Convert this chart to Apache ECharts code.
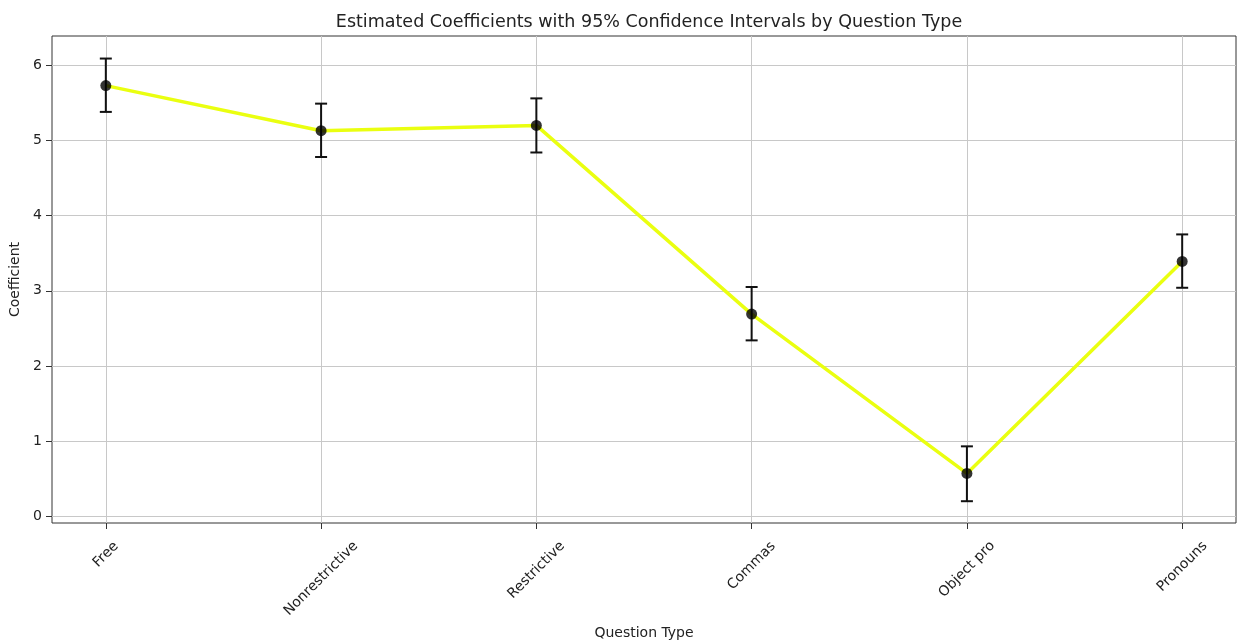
<!DOCTYPE html>
<html>
<head>
<meta charset="utf-8">
<style>
  html, body { margin: 0; padding: 0; background: #fff; }
  #myChart { width: 1238px; height: 644px; }
</style>
<script src="https://cdn.jsdelivr.net/npm/echarts@6/dist/echarts.min.js"></script>
</head>
<body>
<div id="myChart"></div>
<script>
// data
const categories = ['Free', 'Nonrestrictive', 'Restrictive', 'Commas', 'Object pro', 'Pronouns']
const coefficients = [5.73, 5.13, 5.20, 2.69, 0.57, 3.39]
const ciLower = [5.38, 4.78, 4.84, 2.34, 0.20, 3.04]
const ciUpper = [6.09, 5.49, 5.56, 3.05, 0.93, 3.75]
const yTicks = [0, 1, 2, 3, 4, 5, 6]
const xTicks = categories.map((c, i) => i)

const FONT = 'DejaVu Sans'
const LABEL_SIZE = 14

// matplotlib centres a 45deg label under its tick; shift each one with padding
const ctx = document.createElement('canvas').getContext('2d')
ctx.font = LABEL_SIZE + 'px ' + FONT
const rich = {}
categories.forEach((c, i) => {
  const w = ctx.measureText(c).width
  const p = Math.round(0.5 * (w + LABEL_SIZE))
  rich['c' + i] = { fontFamily: FONT, fontSize: LABEL_SIZE, color: '#222', padding: [p, p, 0, 0] }
})

const lineData = categories.map((c, i) => [i, coefficients[i]])
const errData = categories.map((c, i) => [i, ciLower[i], ciUpper[i]])

const myChart = echarts.init(document.getElementById('myChart'))
myChart.setOption({
  animation: false,
  backgroundColor: '#fff',
  title: {
    text: 'Estimated Coefficients with 95% Confidence Intervals by Question Type',
    left: 644,
    textAlign: 'center',
    top: 8,
    textStyle: { fontFamily: FONT, fontSize: 17.5, fontWeight: 'normal', color: '#222' },
  },
  grid: {
    left: 52,
    right: 2,
    top: 36,
    bottom: 121,
    outerBoundsMode: 'none',
    show: true,
    borderColor: '#333',
    borderWidth: 1,
  },
  xAxis: {
    type: 'value',
    min: -0.25,
    max: 5.25,
    name: 'Question Type',
    nameLocation: 'middle',
    nameGap: 103,
    nameTextStyle: { fontFamily: FONT, fontSize: 14, color: '#222' },
    axisLine: { show: false, onZero: false },
    axisTick: { show: true, length: 6, customValues: xTicks, lineStyle: { color: '#333' } },
    splitLine: { show: true, lineStyle: { color: '#c8c8c8', width: 1 } },
    axisLabel: {
      customValues: xTicks,
      rotate: 45,
      align: 'center',
      verticalAlign: 'middle',
      margin: 16,
      hideOverlap: false,
      formatter: v => '{c' + v + '|' + categories[v] + '}',
      rich: rich,
    },
  },
  yAxis: {
    type: 'value',
    min: -0.09,
    max: 6.39,
    name: 'Coefficient',
    nameLocation: 'middle',
    nameGap: 27,
    nameTextStyle: { fontFamily: FONT, fontSize: 14, color: '#222' },
    axisLine: { show: false, onZero: false },
    axisTick: { show: true, length: 6, customValues: yTicks, lineStyle: { color: '#333' } },
    splitLine: { show: true, lineStyle: { color: '#c8c8c8', width: 1 } },
    axisLabel: {
      customValues: yTicks,
      margin: 10,
      fontFamily: FONT,
      fontSize: 14,
      color: '#222',
    },
  },
  series: [
    {
      type: 'line',
      data: lineData,
      symbol: 'none',
      z: 2,
      lineStyle: { color: '#eaff10', width: 3.5 },
    },
    {
      type: 'custom',
      data: errData,
      z: 3,
      renderItem: (params, api) => {
        const x = api.value(0)
        const lo = api.coord([x, api.value(1)])
        const hi = api.coord([x, api.value(2)])
        const cap = 6
        const style = { stroke: '#111', lineWidth: 2 }
        return {
          type: 'group',
          children: [
            { type: 'line', shape: { x1: lo[0], y1: lo[1], x2: hi[0], y2: hi[1] }, style: style },
            { type: 'line', shape: { x1: lo[0] - cap, y1: lo[1], x2: lo[0] + cap, y2: lo[1] }, style: style },
            { type: 'line', shape: { x1: hi[0] - cap, y1: hi[1], x2: hi[0] + cap, y2: hi[1] }, style: style },
          ],
        }
      },
    },
    {
      type: 'scatter',
      data: lineData,
      symbol: 'circle',
      symbolSize: 11,
      z: 4,
      itemStyle: { color: '#000' },
    },
  ],
})
</script>
</body>
</html>
